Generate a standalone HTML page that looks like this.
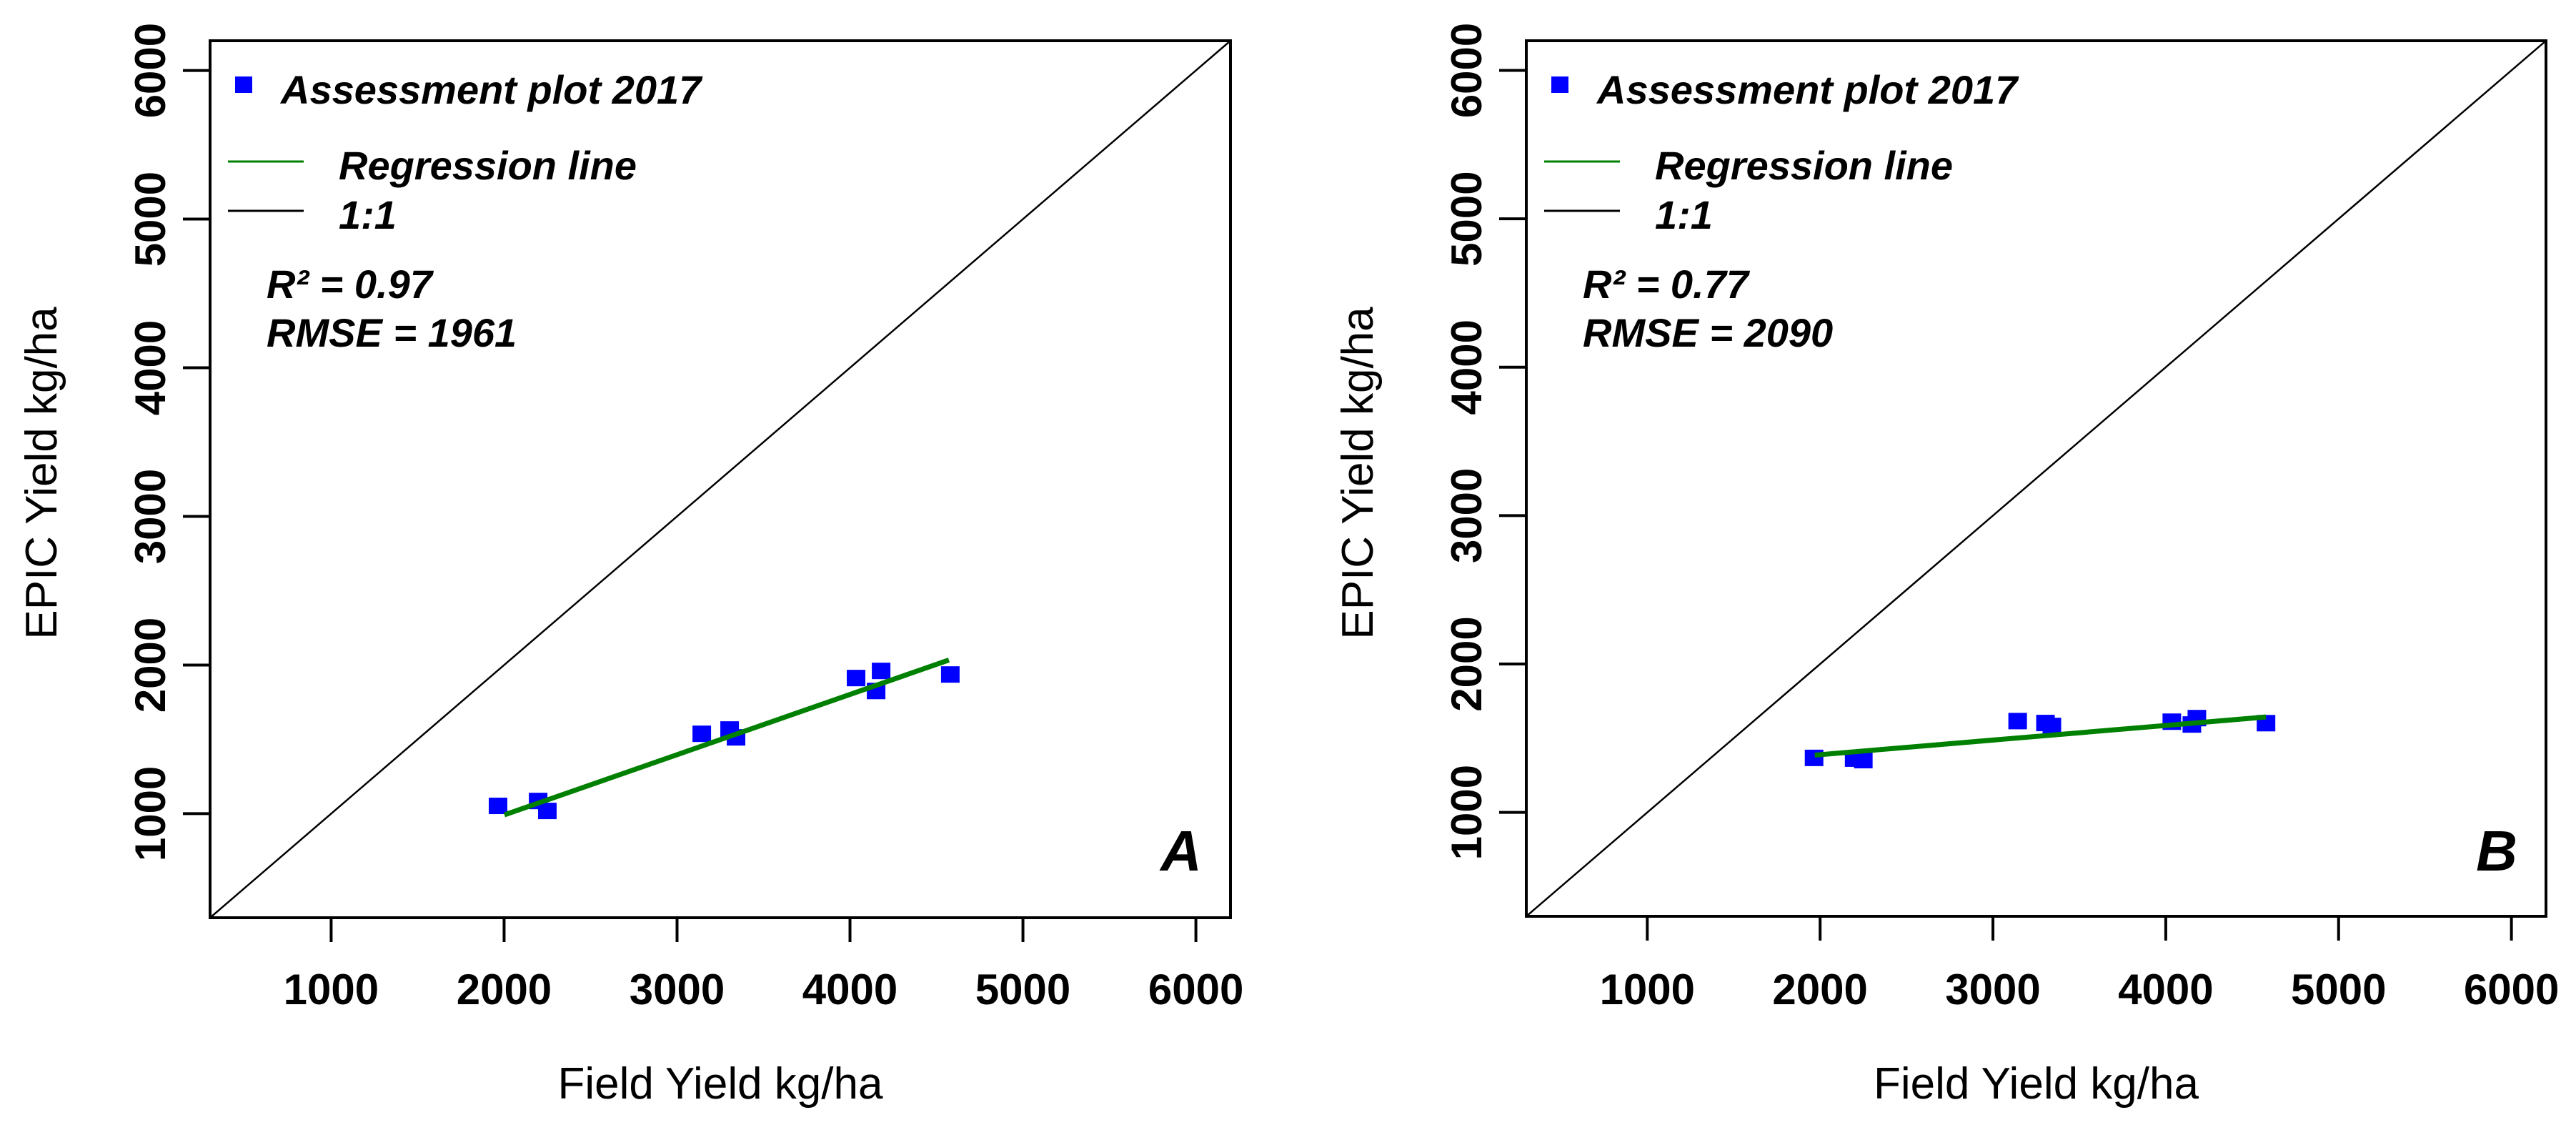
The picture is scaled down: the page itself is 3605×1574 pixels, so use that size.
<!DOCTYPE html>
<html><head><meta charset="utf-8"><title>EPIC vs Field Yield</title>
<style>html,body{margin:0;padding:0;background:#fff;}svg{display:block;font-family:"Liberation Sans",Arial,sans-serif;}</style>
</head><body>
<svg id="chart" width="3605" height="1574" viewBox="0 0 3605 1574" xmlns="http://www.w3.org/2000/svg"></svg>
<script>
const ticks = [1000, 2000, 3000, 4000, 5000, 6000];
const tickLabels = ["1000", "2000", "3000", "4000", "5000", "6000"];
const fieldYield = [1965, 2197, 2250, 3143, 3304, 3341, 4035, 4180, 4151, 4580];
const epicA = [1050, 1083, 1016, 1535, 1564, 1511, 1910, 1958, 1823, 1934];
const epicB = [1365, 1360, 1350, 1613, 1600, 1580, 1609, 1633, 1590, 1599];
const regAx = [2002, 4572];
const regAy = [992, 2034];
const regBx = [1969, 4580];
const regBy = [1386, 1643];
const statsA = ["R² = 0.97", "RMSE = 1961"];
const statsB = ["R² = 0.77", "RMSE = 2090"];
const domainMin = 300, domainMax = 6200;

const NS = "http://www.w3.org/2000/svg";
const svg = document.getElementById("chart");
function mk(tag, attrs, parent) {
  const e = document.createElementNS(NS, tag);
  for (const k in attrs) e.setAttribute(k, attrs[k]);
  (parent || svg).appendChild(e);
  return e;
}

function panel(left, right, top, bottom, ys, rx, ry, stats, letter, id) {
  const g = mk("g", {});
  
  
  const sx = v => left + (v - domainMin) / (domainMax - domainMin) * (right - left);
  const sy = v => bottom - (v - domainMin) / (domainMax - domainMin) * (bottom - top);
  const one = mk("line", {x1: sx(domainMin), y1: sy(domainMin), x2: sx(domainMax), y2: sy(domainMax), stroke: "#000", "stroke-width": 2.5}, g);
  
  
  for (let i = 0; i < fieldYield.length; i++) {
    const r = mk("rect", {x: sx(fieldYield[i]) - 13, y: sy(ys[i]) - 12, width: 26, height: 23, fill: "#0000ff"}, g);
    
    
  }
  const reg = mk("line", {x1: sx(rx[0]), y1: sy(ry[0]), x2: sx(rx[1]), y2: sy(ry[1]), stroke: "#008000", "stroke-width": 7}, g);
  
  
  const box = mk("rect", {x: left, y: top, width: right - left, height: bottom - top, fill: "none", stroke: "#000", "stroke-width": 4}, g);
  
  
  ticks.forEach((t, i) => {
    const tl = mk("line", {x1: sx(t), y1: bottom, x2: sx(t), y2: bottom + 34, stroke: "#000", "stroke-width": 4}, g);
    
    
    const tx = mk("text", {x: sx(t), y: 1405, "text-anchor": "middle", "font-size": 60, "font-weight": "bold"}, g);
    tx.textContent = tickLabels[i];
    
    
  });
  ticks.forEach((t, i) => {
    const tl = mk("line", {x1: left - 38, y1: sy(t), x2: left, y2: sy(t), stroke: "#000", "stroke-width": 4}, g);
    
    
    const ty = left - 84;
    const tx = mk("text", {x: ty, y: sy(t), "text-anchor": "middle", "font-size": 60, "font-weight": "bold", transform: "rotate(-90 " + ty + " " + sy(t) + ") translate(0 21)"}, g);
    tx.textContent = tickLabels[i];
    
    
  });
  const xt = mk("text", {x: (left + right) / 2, y: 1537, "text-anchor": "middle", "font-size": 62}, g);
  xt.textContent = "Field Yield kg/ha";
  
  
  const yx = left - 237, yy = 662;
  const yt = mk("text", {x: yx, y: yy, "text-anchor": "middle", "font-size": 62, transform: "rotate(-90 " + yx + " " + yy + ") translate(0 22)"}, g);
  yt.textContent = "EPIC Yield kg/ha";
  
  
  const lg = mk("g", {}, g);
  
  
  const sq = mk("rect", {x: left + 35, y: 107, width: 24, height: 23, fill: "#0000ff"}, lg);
  
  
  const t1 = mk("text", {x: left + 99, y: 145, "font-size": 56, "font-weight": "bold", "font-style": "italic"}, lg);
  t1.textContent = "Assessment plot 2017";
  
  
  const l2 = mk("line", {x1: left + 25, y1: 226, x2: left + 131, y2: 226, stroke: "#008000", "stroke-width": 3}, lg);
  
  
  const t2 = mk("text", {x: left + 180, y: 251, "font-size": 56, "font-weight": "bold", "font-style": "italic"}, lg);
  t2.textContent = "Regression line";
  
  
  const l3 = mk("line", {x1: left + 25, y1: 295, x2: left + 131, y2: 295, stroke: "#000", "stroke-width": 3}, lg);
  
  
  const t3 = mk("text", {x: left + 180, y: 320, "font-size": 56, "font-weight": "bold", "font-style": "italic"}, lg);
  t3.textContent = "1:1";
  
  
  const s1 = mk("text", {x: left + 79, y: 417, "font-size": 56, "font-weight": "bold", "font-style": "italic"}, g);
  s1.textContent = stats[0];
  
  
  const s2 = mk("text", {x: left + 79, y: 485, "font-size": 56, "font-weight": "bold", "font-style": "italic"}, g);
  s2.textContent = stats[1];
  
  
  const pl = mk("text", {x: right - 69, y: 1218, "text-anchor": "middle", "font-size": 80, "font-weight": "bold", "font-style": "italic"}, g);
  pl.textContent = letter;
  
  
}

panel(294, 1722, 57, 1284, epicA, regAx, regAy, statsA, "A", "a");
panel(2136, 3563, 57, 1282, epicB, regBx, regBy, statsB, "B", "b");
</script>
</body></html>
